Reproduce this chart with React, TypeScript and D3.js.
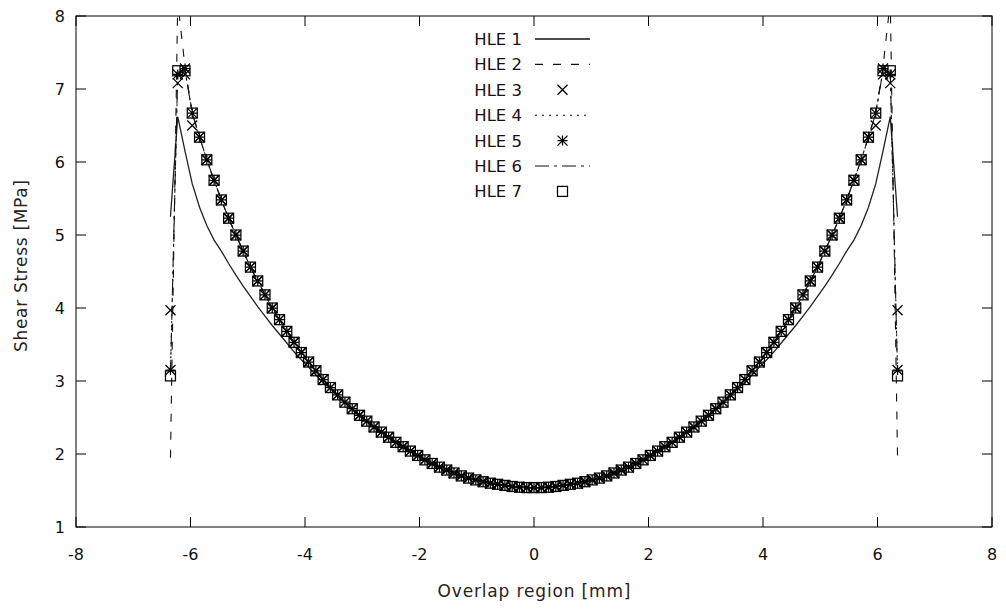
import React from "react";
import * as d3 from "d3";

const xTicks = [-8, -6, -4, -2, 0, 2, 4, 6, 8];
const yTicks = [1, 2, 3, 4, 5, 6, 7, 8];

const positions = [
  -6.35, -6.223, -6.096, -5.969, -5.842, -5.715, -5.588, -5.461, -5.334, -5.207,
  -5.08, -4.953, -4.826, -4.699, -4.572, -4.445, -4.318, -4.191, -4.064, -3.937,
  -3.81, -3.683, -3.556, -3.429, -3.302, -3.175, -3.048, -2.921, -2.794, -2.667,
  -2.54, -2.413, -2.286, -2.159, -2.032, -1.905, -1.778, -1.651, -1.524, -1.397,
  -1.27, -1.143, -1.016, -0.889, -0.762, -0.635, -0.508, -0.381, -0.254, -0.127,
  0,
  0.127, 0.254, 0.381, 0.508, 0.635, 0.762, 0.889, 1.016, 1.143, 1.27,
  1.397, 1.524, 1.651, 1.778, 1.905, 2.032, 2.159, 2.286, 2.413, 2.54,
  2.667, 2.794, 2.921, 3.048, 3.175, 3.302, 3.429, 3.556, 3.683, 3.81,
  3.937, 4.064, 4.191, 4.318, 4.445, 4.572, 4.699, 4.826, 4.953, 5.08,
  5.207, 5.334, 5.461, 5.588, 5.715, 5.842, 5.969, 6.096, 6.223, 6.35,
];

const hle1 = [
  5.25, 6.62, 6.15, 5.7, 5.38, 5.13, 4.93, 4.78, 4.61, 4.45,
  4.3, 4.16, 4.02, 3.89, 3.76, 3.64, 3.52, 3.4, 3.29, 3.19,
  3.08, 2.98, 2.89, 2.79, 2.7, 2.61, 2.52, 2.44, 2.37, 2.3,
  2.23, 2.16, 2.1, 2.04, 1.98, 1.92, 1.87, 1.82, 1.78, 1.74,
  1.7, 1.67, 1.645, 1.62, 1.6, 1.585, 1.57, 1.555, 1.545, 1.54,
  1.54,
  1.54, 1.545, 1.555, 1.57, 1.585, 1.6, 1.62, 1.645, 1.67, 1.7,
  1.74, 1.78, 1.82, 1.87, 1.92, 1.98, 2.04, 2.1, 2.16, 2.23,
  2.3, 2.37, 2.44, 2.52, 2.61, 2.7, 2.79, 2.89, 2.98, 3.08,
  3.19, 3.29, 3.4, 3.52, 3.64, 3.76, 3.89, 4.02, 4.16, 4.3,
  4.45, 4.61, 4.78, 4.93, 5.13, 5.38, 5.7, 6.15, 6.62, 5.25,
];

// common interior values (points 5..97) shared by HLE 2-7
const interior = [
  6.34, 6.03, 5.75, 5.48, 5.23, 5.0, 4.78, 4.56, 4.37, 4.18,
  4.0, 3.84, 3.68, 3.53, 3.39, 3.26, 3.14, 3.02, 2.91, 2.81,
  2.71, 2.62, 2.53, 2.45, 2.37, 2.3, 2.23, 2.16, 2.1, 2.04,
  1.98, 1.92, 1.87, 1.82, 1.78, 1.74, 1.7, 1.67, 1.645, 1.62,
  1.6, 1.585, 1.57, 1.555, 1.545, 1.54, 1.54,
  1.54, 1.545, 1.555, 1.57, 1.585, 1.6, 1.62, 1.645, 1.67, 1.7,
  1.74, 1.78, 1.82, 1.87, 1.92, 1.98, 2.04, 2.1, 2.16, 2.23,
  2.3, 2.37, 2.45, 2.53, 2.62, 2.71, 2.81, 2.91, 3.02, 3.14,
  3.26, 3.39, 3.53, 3.68, 3.84, 4.0, 4.18, 4.37, 4.56, 4.78,
  5.0, 5.23, 5.48, 5.75, 6.03, 6.34,
];

const hle2 = [1.95, 8.2, 7.3, 6.67, ...interior, 6.67, 7.3, 8.2, 1.95];
const hle3 = [3.97, 7.08, 7.2, 6.5, ...interior, 6.5, 7.2, 7.08, 3.97];
const hle4 = [3.12, 7.22, 7.26, 6.67, ...interior, 6.67, 7.26, 7.22, 3.12];
const hle5 = [3.15, 7.2, 7.28, 6.67, ...interior, 6.67, 7.28, 7.2, 3.15];
const hle6 = [3.1, 7.23, 7.25, 6.67, ...interior, 6.67, 7.25, 7.23, 3.1];
const hle7 = [3.07, 7.25, 7.25, 6.67, ...interior, 6.67, 7.25, 7.25, 3.07];

const seriesNames = ["HLE 1", "HLE 2", "HLE 3", "HLE 4", "HLE 5", "HLE 6", "HLE 7"];
const seriesValues = [hle1, hle2, hle3, hle4, hle5, hle6, hle7];
const seriesKinds = ["line", "line", "cross", "line", "star", "line", "square"];
const seriesDash = ["none", "8,10", "none", "2,5", "none", "14,5,3,5", "none"];

const W = 1006;
const H = 610;
const L = 76, R = 992, T = 16, B = 527;
const FONT = "DejaVu Sans, Verdana, sans-serif";

function Marker({ kind, x, y }: { kind: string; x: number; y: number }) {
  const s = 5;
  const sw = 1.25;
  if (kind === "cross") {
    return (
      <path
        d={`M${x - s},${y - s}L${x + s},${y + s}M${x - s},${y + s}L${x + s},${y - s}`}
        stroke="#000"
        strokeWidth={sw}
        fill="none"
      />
    );
  }
  if (kind === "star") {
    return (
      <path
        d={`M${x - s},${y - s}L${x + s},${y + s}M${x - s},${y + s}L${x + s},${y - s}M${x},${y - s}L${x},${y + s}M${x - s},${y}L${x + s},${y}`}
        stroke="#000"
        strokeWidth={sw}
        fill="none"
      />
    );
  }
  return (
    <rect x={x - s} y={y - s} width={2 * s} height={2 * s} stroke="#000" strokeWidth={sw} fill="none" />
  );
}

export default function App() {
  const xs = d3.scaleLinear().domain([-8, 8]).range([L, R]);
  const ys = d3.scaleLinear().domain([1, 8]).range([B, T]);
  const line = d3
    .line<number>()
    .x((_, i) => xs(positions[i]))
    .y((d) => ys(d));

  const legendX0 = 535, legendX1 = 590, legendTextX = 522;
  const legendY = (k: number) => 39 + 25.4 * k;

  return (
    <svg
      width={W}
      height={H}
      style={{ position: "absolute", left: 0, top: 0, background: "#fff" }}
      fontFamily={FONT}
    >
      <defs>
        <clipPath id="plotclip">
          <rect x={L} y={T} width={R - L} height={B - T} />
        </clipPath>
      </defs>
      <rect x={0} y={0} width={W} height={H} fill="#fff" />

      {/* ticks */}
      {xTicks.map((t) => (
        <g key={"xt" + t}>
          <line x1={xs(t)} x2={xs(t)} y1={B} y2={B - 10} stroke="#000" />
          <line x1={xs(t)} x2={xs(t)} y1={T} y2={T + 10} stroke="#000" />
          <text x={xs(t)} y={560} textAnchor="middle" fontSize={16} fill="#111">
            {t}
          </text>
        </g>
      ))}
      {yTicks.map((t) => (
        <g key={"yt" + t}>
          <line x1={L} x2={L + 10} y1={ys(t)} y2={ys(t)} stroke="#000" />
          <line x1={R} x2={R - 10} y1={ys(t)} y2={ys(t)} stroke="#000" />
          <text x={65} y={ys(t) + 6} textAnchor="end" fontSize={16} fill="#111">
            {t}
          </text>
        </g>
      ))}
      <rect x={L} y={T} width={R - L} height={B - T} fill="none" stroke="#000" strokeWidth={1} />

      {/* axis titles */}
      <text x={534} y={597} textAnchor="middle" fontSize={17} fill="#2a211c" textLength={193} lengthAdjust="spacing">
        Overlap region [mm]
      </text>
      <text
        transform={`translate(27,266) rotate(-90)`}
        textAnchor="middle"
        fontSize={17}
        fill="#2a211c"
        textLength={172}
        lengthAdjust="spacing"
      >
        Shear Stress [MPa]
      </text>

      {/* data */}
      <g clipPath="url(#plotclip)">
        {seriesValues.map((vals, si) => {
          const kind = seriesKinds[si];
          if (kind === "line") {
            return (
              <path
                key={"s" + si}
                d={line(vals) || ""}
                fill="none"
                stroke={si === 0 ? "#222" : "#111"}
                strokeWidth={si === 0 ? 1.3 : 1.1}
                strokeDasharray={seriesDash[si] === "none" ? undefined : seriesDash[si]}
              />
            );
          }
          return (
            <g key={"s" + si}>
              {vals.map((v, i) => (
                <Marker key={i} kind={kind} x={xs(positions[i])} y={ys(v)} />
              ))}
            </g>
          );
        })}
      </g>

      {/* legend */}
      {seriesNames.map((name, k) => {
        const y = legendY(k);
        const kind = seriesKinds[k];
        return (
          <g key={"lg" + k}>
            <text x={legendTextX} y={y + 6} textAnchor="end" fontSize={16.5} fill="#1a1010">
              {name}
            </text>
            {kind === "line" ? (
              <line
                x1={legendX0}
                x2={legendX1}
                y1={y}
                y2={y}
                stroke="#111"
                strokeWidth={k === 0 ? 1.3 : 1.1}
                strokeDasharray={seriesDash[k] === "none" ? undefined : seriesDash[k]}
              />
            ) : (
              <Marker kind={kind} x={(legendX0 + legendX1) / 2} y={y} />
            )}
          </g>
        );
      })}
    </svg>
  );
}
